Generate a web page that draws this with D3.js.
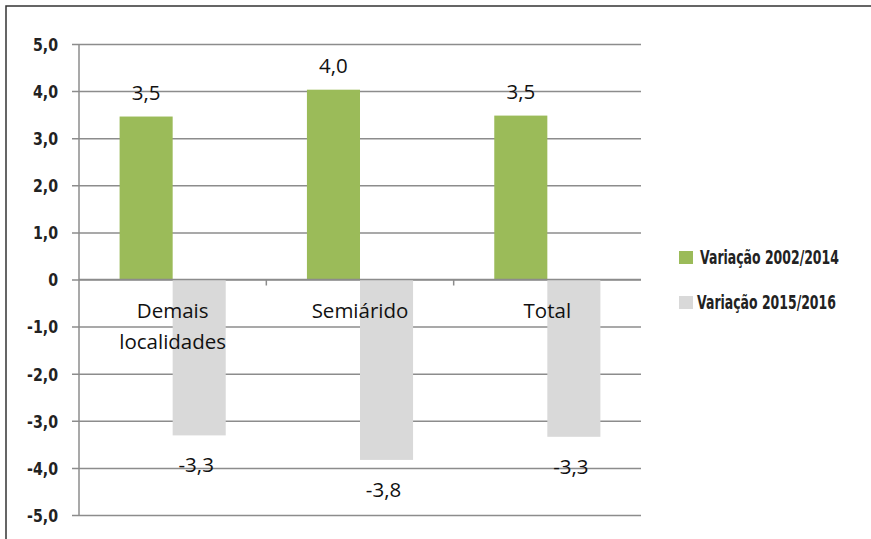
<!DOCTYPE html>
<html>
<head>
<meta charset="utf-8">
<script src="https://cdn.jsdelivr.net/npm/d3@7"></script>
<style>
  html, body { margin: 0; padding: 0; background: #fff; }
  svg { display: block; }
  .tick-label { font-family: "DejaVu Sans", sans-serif; font-weight: bold; font-size: 18px; fill: #222; }
  .cat-label, .val-label { font-family: "Open Sans", "Noto Sans", sans-serif; font-size: 20.5px; fill: #111; }
  .legend-label { font-family: "DejaVu Sans", sans-serif; font-weight: bold; font-size: 20px; fill: #222; }
</style>
</head>
<body>
<svg id="chart" width="871" height="539"></svg>
<script>
// Categories (multi-line labels) and the two series
const categories = [["Demais", "localidades"], ["Semiárido"], ["Total"]];
const seriesNames = ["Variação 2002/2014", "Variação 2015/2016"];
const var2002_2014 = [3.46, 4.03, 3.48];
const var2015_2016 = [-3.31, -3.83, -3.34];
const yTicks = [5, 4, 3, 2, 1, 0, -1, -2, -3, -4, -5];
const yTickLabels = ["5,0", "4,0", "3,0", "2,0", "1,0", "0", "-1,0", "-2,0", "-3,0", "-4,0", "-5,0"];

const colors = ["#9BBB59", "#D9D9D9"];
const svg = d3.select("#chart");

// outer frame (top and left edges)
svg.append("path")
  .attr("d", "M6,539 L6,6 L871,6")
  .attr("fill", "none").attr("stroke", "#333").attr("stroke-width", 1.5);

const plotLeft = 79, plotRight = 641, plotTop = 44, plotBottom = 515;

const y = d3.scaleLinear().domain([-5, 5]).range([plotBottom, plotTop]);
const x = d3.scaleBand().domain(d3.range(categories.length)).range([plotLeft, plotRight]);
const inner = d3.scaleBand().domain([0, 1]).range([0, x.bandwidth()]).paddingInner(0).paddingOuter(0.765);

// horizontal gridlines with ticks out to the left
const yAxis = d3.axisLeft(y).tickValues(yTicks)
  .tickSize(-(plotRight - plotLeft)).tickSizeOuter(0)
  .tickFormat((d, i) => yTickLabels[i]);
const gy = svg.append("g").attr("transform", `translate(${plotLeft},0)`).call(yAxis);
gy.select(".domain").remove();
gy.selectAll(".tick line").attr("stroke", "#8c8c8c").attr("stroke-width", 1.5).attr("x1", -7);

// condensed bold tick labels: squeeze horizontally, anchored at the right edge
const tickText = gy.selectAll(".tick text").attr("class", "tick-label").attr("x", 0).attr("dy", "0.35em");
const refTick = tickText.filter((d, i) => yTickLabels[i] === "-1,0").node();
const tickScale = 31 / refTick.getComputedTextLength();
tickText.attr("transform", `translate(-21,0) scale(${tickScale},1)`);

// vertical axis line
svg.append("line")
  .attr("x1", plotLeft).attr("x2", plotLeft).attr("y1", plotTop).attr("y2", plotBottom)
  .attr("stroke", "#8c8c8c").attr("stroke-width", 1.5);

// bars
const series = [var2002_2014, var2015_2016];
series.forEach((vals, s) => {
  svg.append("g").selectAll("rect").data(vals).join("rect")
    .attr("x", (d, i) => x(i) + inner(s))
    .attr("width", inner.bandwidth())
    .attr("y", d => y(Math.max(0, d)))
    .attr("height", d => Math.abs(y(d) - y(0)))
    .attr("fill", colors[s]);
});

// category tick marks on the zero line between groups
svg.append("g").selectAll("line").data(d3.range(1, categories.length)).join("line")
  .attr("x1", i => x(i)).attr("x2", i => x(i))
  .attr("y1", y(0)).attr("y2", y(0) + 6)
  .attr("stroke", "#8c8c8c").attr("stroke-width", 1.5);

// zero line drawn on top of the bars
svg.append("line")
  .attr("x1", plotLeft).attr("x2", plotRight).attr("y1", y(0)).attr("y2", y(0))
  .attr("stroke", "#8c8c8c").attr("stroke-width", 1.5);

// category labels under the zero line
const catG = svg.append("g");
categories.forEach((lines, i) => {
  const t = catG.append("text").attr("class", "cat-label")
    .attr("text-anchor", "middle")
    .attr("x", x(i) + x.bandwidth() / 2)
    .attr("y", y(0) + 38);
  lines.forEach((ln, j) => t.append("tspan")
    .attr("x", x(i) + x.bandwidth() / 2)
    .attr("dy", j === 0 ? 0 : 31).text(ln));
});

// value labels
const fmt = v => d3.format(".1f")(v).replace(".", ",").replace("−", "-");
series.forEach((vals, s) => {
  svg.append("g").selectAll("text").data(vals).join("text")
    .attr("class", "val-label").attr("text-anchor", "middle")
    .attr("x", (d, i) => x(i) + inner(s) + inner.bandwidth() / 2 + (s === 1 ? -3 : 0))
    .attr("y", d => d >= 0 ? y(d) - 17 : y(d) + 37)
    .text(d => fmt(d));
});

// legend (condensed bold text)
const lg = svg.append("g");
const legendTexts = [];
seriesNames.forEach((name, s) => {
  const ly = 251 + s * 45;
  lg.append("rect").attr("x", 679).attr("y", ly).attr("width", 14).attr("height", 13).attr("fill", colors[s]);
  legendTexts.push(lg.append("text").attr("class", "legend-label")
    .attr("x", 0).attr("y", 0).text(name).datum(ly));
});
const legScale = 139 / legendTexts[0].node().getComputedTextLength();
legendTexts.forEach((t, s) => {
  t.attr("transform", `translate(${s === 0 ? 700 : 697},${t.datum() + 13}) scale(${legScale},1)`);
});
</script>
</body>
</html>
